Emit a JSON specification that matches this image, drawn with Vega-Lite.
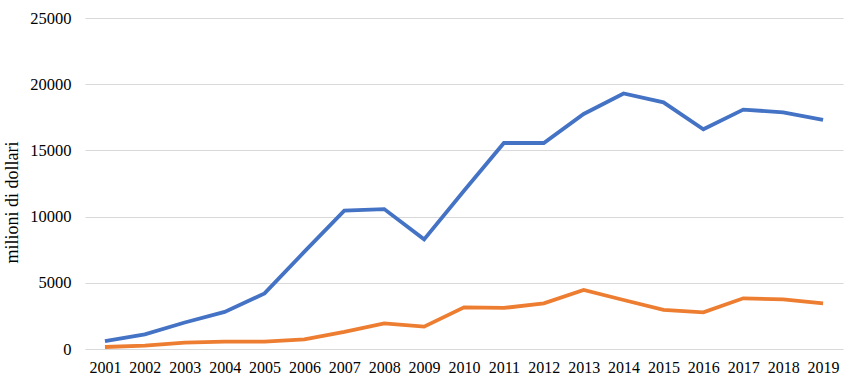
{
  "$schema": "https://vega.github.io/schema/vega-lite/v6.json",
  "autosize": "none",
  "width": 758,
  "height": 331,
  "padding": {"left": 85, "top": 18, "right": 7, "bottom": 32},
  "background": "white",
  "config": {"view": {"stroke": null}, "font": "Liberation Serif"},
  "data": {"values": [
    {"anno": "2001", "serie": "A", "valore": 600},
    {"anno": "2002", "serie": "A", "valore": 1100},
    {"anno": "2003", "serie": "A", "valore": 2000},
    {"anno": "2004", "serie": "A", "valore": 2800},
    {"anno": "2005", "serie": "A", "valore": 4200},
    {"anno": "2006", "serie": "A", "valore": 7350},
    {"anno": "2007", "serie": "A", "valore": 10450},
    {"anno": "2008", "serie": "A", "valore": 10570},
    {"anno": "2009", "serie": "A", "valore": 8280},
    {"anno": "2010", "serie": "A", "valore": 11950},
    {"anno": "2011", "serie": "A", "valore": 15560},
    {"anno": "2012", "serie": "A", "valore": 15560},
    {"anno": "2013", "serie": "A", "valore": 17750},
    {"anno": "2014", "serie": "A", "valore": 19300},
    {"anno": "2015", "serie": "A", "valore": 18630},
    {"anno": "2016", "serie": "A", "valore": 16600},
    {"anno": "2017", "serie": "A", "valore": 18080},
    {"anno": "2018", "serie": "A", "valore": 17880},
    {"anno": "2019", "serie": "A", "valore": 17300},
    {"anno": "2001", "serie": "B", "valore": 150},
    {"anno": "2002", "serie": "B", "valore": 250},
    {"anno": "2003", "serie": "B", "valore": 480},
    {"anno": "2004", "serie": "B", "valore": 550},
    {"anno": "2005", "serie": "B", "valore": 550},
    {"anno": "2006", "serie": "B", "valore": 730},
    {"anno": "2007", "serie": "B", "valore": 1300},
    {"anno": "2008", "serie": "B", "valore": 1940},
    {"anno": "2009", "serie": "B", "valore": 1690},
    {"anno": "2010", "serie": "B", "valore": 3150},
    {"anno": "2011", "serie": "B", "valore": 3100},
    {"anno": "2012", "serie": "B", "valore": 3450},
    {"anno": "2013", "serie": "B", "valore": 4460},
    {"anno": "2014", "serie": "B", "valore": 3700},
    {"anno": "2015", "serie": "B", "valore": 2950},
    {"anno": "2016", "serie": "B", "valore": 2770},
    {"anno": "2017", "serie": "B", "valore": 3830},
    {"anno": "2018", "serie": "B", "valore": 3750},
    {"anno": "2019", "serie": "B", "valore": 3450}
  ]},
  "mark": {"type": "line", "strokeWidth": 3.8, "strokeJoin": "miter", "strokeCap": "butt"},
  "encoding": {
    "x": {
      "field": "anno", "type": "ordinal",
      "scale": {"type": "point", "padding": 0.5},
      "axis": {"title": null, "labelAngle": 0, "domain": false, "ticks": false, "grid": false,
               "labelFont": "Liberation Serif", "labelFontSize": 16, "labelColor": "#000000", "labelPadding": 10}
    },
    "y": {
      "field": "valore", "type": "quantitative",
      "scale": {"domain": [0, 25000], "nice": false},
      "axis": {"title": "milioni di dollari", "values": [0, 5000, 10000, 15000, 20000, 25000], "format": "d",
               "domain": false, "ticks": false, "grid": true, "gridColor": "#d9d9d9", "gridWidth": 1,
               "labelFont": "Liberation Serif", "labelFontSize": 16.5, "labelColor": "#000000", "labelPadding": 14,
               "titleFont": "Liberation Serif", "titleFontSize": 18, "titleFontWeight": "normal", "titleColor": "#000000",
               "titleX": -64, "titleY": 184}
    },
    "color": {
      "field": "serie", "type": "nominal",
      "scale": {"domain": ["A", "B"], "range": ["#4472C4", "#ED7D31"]},
      "legend": null
    }
  }
}
